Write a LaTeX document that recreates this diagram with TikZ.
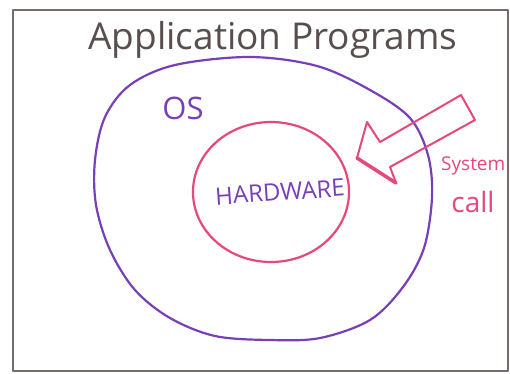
\documentclass[tikz,border=0pt]{standalone}
\usepackage{fontspec}
\setmainfont{Open Sans}
\definecolor{frameink}{RGB}{118,108,108}
\definecolor{titleink}{RGB}{88,78,78}
\definecolor{ospurple}{RGB}{120,64,182}
\definecolor{hwpink}{RGB}{230,72,122}
\tikzset{
  framebox/.style={draw=frameink, line width=2pt},
  layer/.style={line width=2.2pt},
  label/.style={inner sep=0pt, font=\fontsize{#1}{#1}\selectfont},
}
\begin{document}
\begin{tikzpicture}[x=1pt, y=-1pt, line join=round, line cap=round]
  \useasboundingbox (0,0) rectangle (510,373);
  \fill[white] (0,0) rectangle (510,373);

  % outer frame
  \draw[framebox] (13,10) rectangle (508,371);

  % title
  \node[label=37, text=titleink] (title) at (273,40) {Application Programs};

  % operating system layer
  \draw[layer, draw=ospurple] plot[smooth cycle, tension=0.55] coordinates {
    (250,57) (317,66) (370,90) (410,118) (428,155) (432,197) (424,248)
    (403,287) (370,320) (320,338) (270,340) (215,336) (170,318) (135,290)
    (110,250) (96,205) (95,160) (105,117) (130,85) (175,65)};
  \node[label=31, text=ospurple] (os) at (183,108) {OS};

  % hardware layer
  \draw[layer, draw=hwpink] (271,192) ellipse [x radius=78, y radius=70];
  \node[label=24, text=ospurple, rotate=4] (hw) at (280,192) {HARDWARE};

  % system call arrow
  \coordinate (tailA) at (461,95);
  \coordinate (tailB) at (475,120);
  \coordinate (neckA) at (380,142);
  \coordinate (barbA) at (367,122);
  \coordinate (tip) at (357,158);
  \coordinate (barbB) at (396,183);
  \coordinate (neckB) at (390,167);
  \draw[draw=hwpink, line width=2pt]
    (tailA) -- (neckA) -- (barbA) -- (tip) -- (barbB) -- (neckB) -- (tailB) -- cycle;
  \draw[hwpink, line width=3.5pt] (tip) -- (barbB);

  \node[label=19, text=hwpink, anchor=west] (sys) at (441,166) {System};
  \node[label=28, text=hwpink] (call) at (473,202) {call};
\end{tikzpicture}
\end{document}
